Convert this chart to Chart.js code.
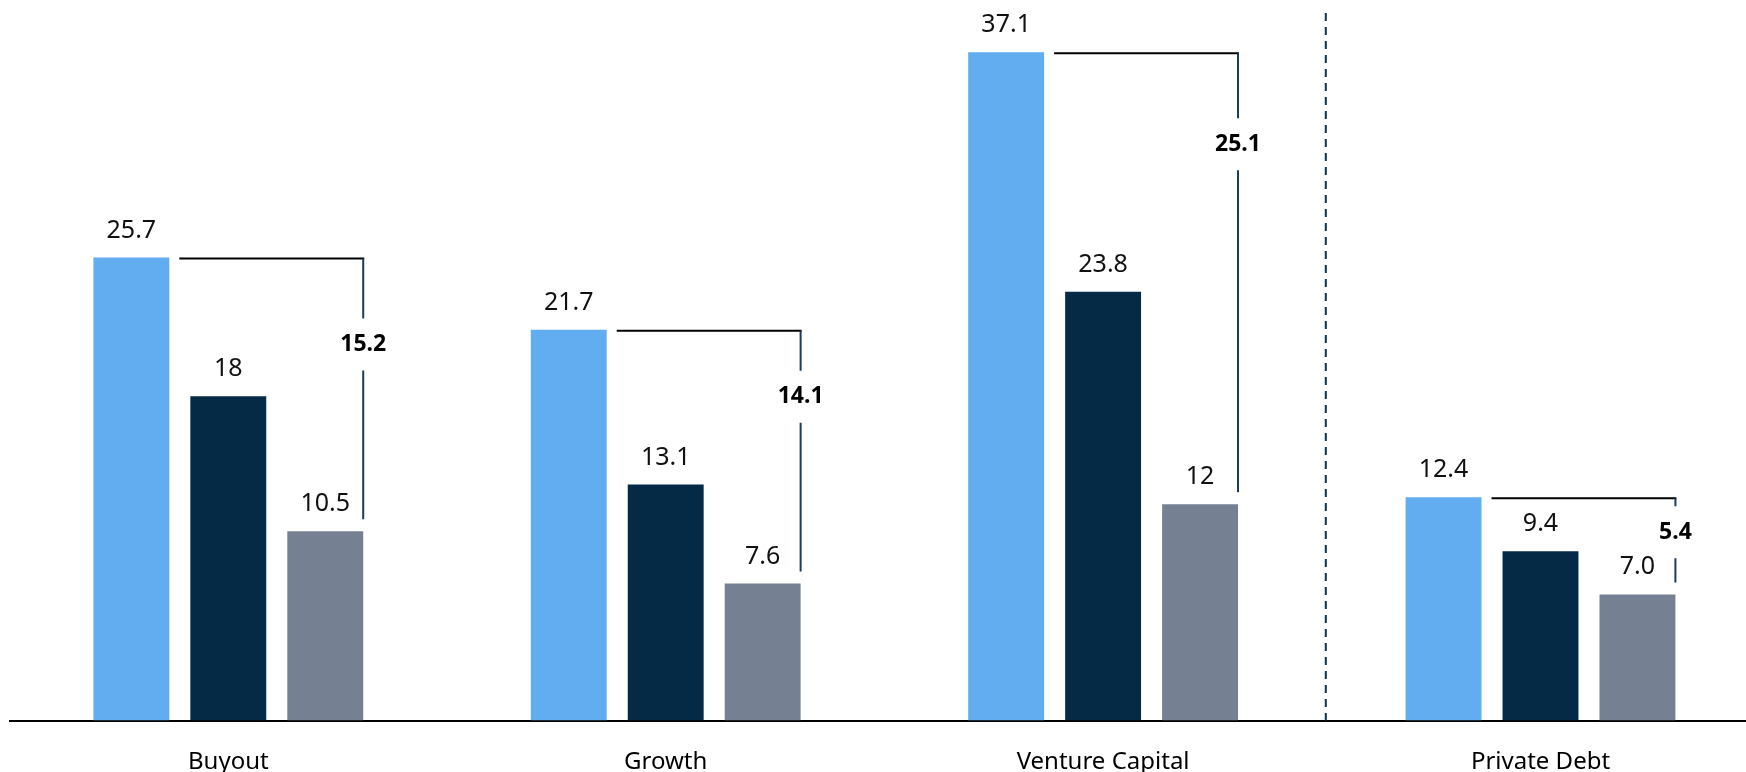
<!DOCTYPE html>
<html>
<head>
<meta charset="utf-8">
<script src="https://cdn.jsdelivr.net/npm/chart.js@4.4.0/dist/chart.umd.min.js"></script>
<style>
  html, body { margin: 0; padding: 0; background: #fff; overflow: hidden; }
</style>
</head>
<body>
<canvas id="myChart" width="1760" height="772"></canvas>
<script>
const categories = ["Buyout", "Growth", "Venture Capital", "Private Debt"];

// printed labels; the bars are drawn from the same numbers
const topQuartile = ["25.7", "21.7", "37.1", "12.4"];
const median = ["18", "13.1", "23.8", "9.4"];
const bottomQuartile = ["10.5", "7.6", "12", "7.0"];

// how far below the bracket top the spread label sits (px)
const spreadLabelDrop = [86, 66, 91, 34];

const FONT = "'Noto Sans', sans-serif";

// value labels, top-to-bottom brackets and the dashed divider
const annotate = {
  id: "annotate",
  afterDatasetsDraw(chart, args, opts) {
    const ctx = chart.ctx;
    const area = chart.chartArea;
    ctx.save();

    ctx.font = "25px " + FONT;
    ctx.fillStyle = "#111";
    ctx.textAlign = "center";
    ctx.textBaseline = "alphabetic";
    chart.data.datasets.forEach((ds, i) => {
      chart.getDatasetMeta(i).data.forEach((bar, j) => {
        ctx.fillText(ds.texts[j], bar.x, bar.y - 20);
      });
    });

    const hiBars = chart.getDatasetMeta(0).data;
    const loBars = chart.getDatasetMeta(2).data;
    categories.forEach((c, j) => {
      const hi = hiBars[j], lo = loBars[j];
      const left = hi.x + hi.width / 2 + 10;
      const right = lo.x + lo.width / 2;
      const yTop = hi.y + 1;
      const yBot = lo.y - 12;
      const yLab = yTop + opts.drop[j];

      ctx.lineWidth = 2;
      ctx.strokeStyle = "#000";
      ctx.beginPath();
      ctx.moveTo(left, yTop);
      ctx.lineTo(right + 1, yTop);
      ctx.stroke();

      ctx.strokeStyle = "#1d3b5a";
      ctx.beginPath();
      ctx.moveTo(right, yTop);
      ctx.lineTo(right, yLab - 26);
      ctx.moveTo(right, yLab + 26);
      ctx.lineTo(right, yBot);
      ctx.stroke();

      const spread = (Number(topQuartile[j]) - Number(bottomQuartile[j])).toFixed(1);
      ctx.font = "bold 23px " + FONT;
      ctx.fillStyle = "#000";
      ctx.textBaseline = "middle";
      ctx.fillText(spread, right, yLab);
    });

    // divider between the equity strategies and private debt
    const xs = chart.scales.x;
    const xd = (xs.getPixelForValue(2) + xs.getPixelForValue(3)) / 2 + 4;
    ctx.setLineDash([8, 6]);
    ctx.strokeStyle = "#0d3556";
    ctx.lineWidth = 2;
    ctx.beginPath();
    ctx.moveTo(xd, 13);
    ctx.lineTo(xd, area.bottom);
    ctx.stroke();

    ctx.restore();
  }
};

const ctx1 = document.getElementById("myChart").getContext("2d");

new Chart(ctx1, {
  type: "bar",
  data: {
    labels: categories,
    datasets: [
      {
        label: "Top quartile",
        data: topQuartile.map(Number),
        texts: topQuartile,
        backgroundColor: "#62adf0"
      },
      {
        label: "Median",
        data: median.map(Number),
        texts: median,
        backgroundColor: "#042a45"
      },
      {
        label: "Bottom quartile",
        data: bottomQuartile.map(Number),
        texts: bottomQuartile,
        backgroundColor: "#758193"
      }
    ]
  },
  options: {
    responsive: false,
    devicePixelRatio: 1,
    animation: false,
    categoryPercentage: 0.665,
    barPercentage: 0.783,
    layout: { padding: { left: 9.6, right: 0.8, top: 0, bottom: 0 } },
    plugins: {
      legend: { display: false },
      tooltip: { enabled: false },
      annotate: { drop: spreadLabelDrop }
    },
    scales: {
      x: {
        grid: { display: false, drawTicks: false },
        border: { color: "#000", width: 2 },
        ticks: { color: "#000", padding: 27, font: { family: FONT, size: 24 } },
        afterFit(scale) { scale.height = 51.5; }
      },
      y: { display: false, min: 0, max: 40 }
    }
  },
  plugins: [annotate]
});
</script>
</body>
</html>
